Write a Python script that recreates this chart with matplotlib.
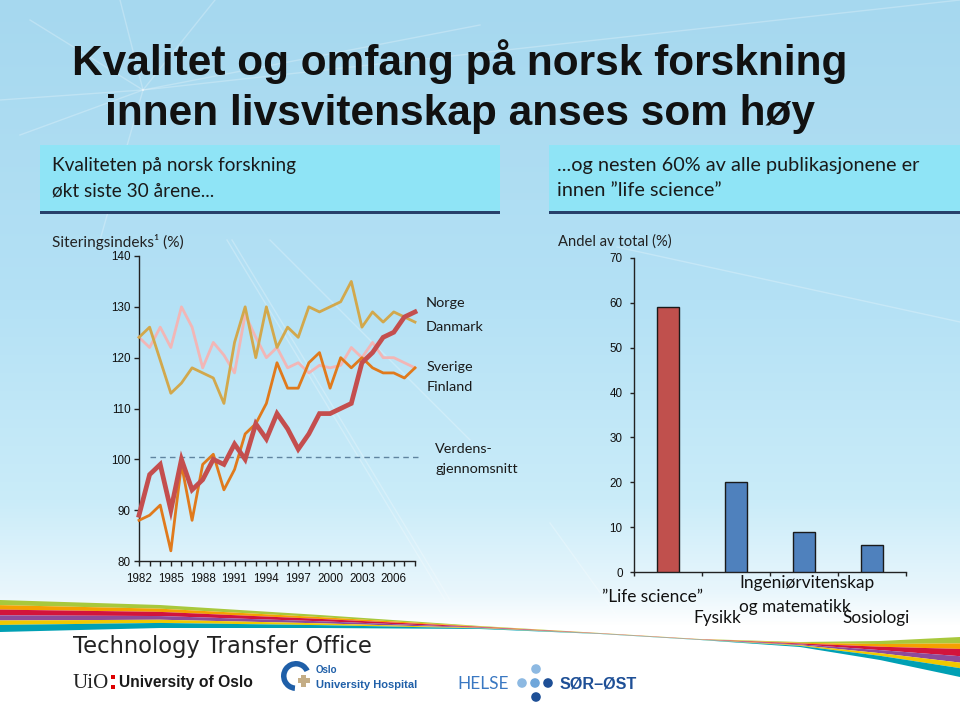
import numpy as np
import matplotlib
matplotlib.use("Agg")
import matplotlib.pyplot as plt
from matplotlib.patches import Rectangle, Wedge, Circle

# ---------------- data ----------------
years = list(range(1982, 2009))
norge = [89, 97, 99, 90, 100, 94, 96, 100, 99, 103, 100, 107, 104, 109, 106, 102, 105,
         109, 109, 110, 111, 119, 121, 124, 125, 128, 129]
danmark = [124, 126, 119.5, 113, 115, 118, 117, 116, 111, 123, 130, 120, 130, 122, 126,
           124, 130, 129, 130, 131, 135, 126, 129, 127, 129, 128, 127]
sverige = [124, 122, 126, 122, 130, 126, 118, 123, 120.5, 117, 128.5, 124, 120, 122, 118,
           119, 117, 118.5, 118, 118.5, 122, 120, 123, 120, 120, 119, 118]
finland = [88, 89, 91, 82, 99, 88, 99, 101, 94, 98, 105, 107, 111, 119, 114, 114, 119,
           121, 114, 120, 118, 120, 118, 117, 117, 116, 118]
world_avg = 100.5
world_start, world_end = 1983, 2008.3
year_ticks = list(range(1982, 2007, 3))
left_yticks = [80, 90, 100, 110, 120, 130, 140]
series_names = ["Norge", "Danmark", "Sverige", "Finland"]
world_label = ["Verdens-", "gjennomsnitt"]

categories = ["\u201dLife science\u201d", "Fysikk", "Ingeni\u00f8rvitenskap\nog matematikk", "Sosiologi"]
shares = [59, 20, 9, 6]
right_yticks = [0, 10, 20, 30, 40, 50, 60, 70]

CAL = ["Lato", "DejaVu Sans"]
ARIAL = ["Liberation Sans", "DejaVu Sans"]

fig = plt.figure(figsize=(9.6, 7.07), dpi=100)
W, H = 960, 707

# ---------------- background ----------------
bg = fig.add_axes([0, 0, 1, 1], zorder=0)
bg.set_xlim(0, W)
bg.set_ylim(H, 0)
bg.axis("off")
rows = np.arange(H)
cy = [0, 300, 500, 590, 625, 707]
rr = np.interp(rows, cy, [166, 180, 202, 232, 255, 255])
gg = np.interp(rows, cy, [216, 225, 236, 246, 255, 255])
bb = np.interp(rows, cy, [239, 245, 249, 252, 255, 255])
img = np.stack([rr, gg, bb], axis=1)[:, None, :].repeat(4, axis=1) / 255.0
bg.imshow(img, extent=(0, W, H, 0), aspect="auto", zorder=0, interpolation="bilinear")

# faint decorative streaks
streaks = [((227, 240), (445, 600)), ((232, 240), (450, 600)), ((270, 240), (470, 440)),
           ((617, 247), (960, 322)), ((550, 523), (627, 630)), ((143, 90), (30, 20)),
           ((143, 90), (120, 0)), ((143, 90), (215, 0)), ((143, 90), (0, 100)),
           ((143, 90), (20, 135)), ((143, 90), (480, 25)), ((143, 90), (960, 0)),
           ((143, 90), (100, 240))]
for (x0, y0), (x1, y1) in streaks:
    bg.plot([x0, x1], [y0, y1], color="white", lw=1.0, alpha=0.25, zorder=1)

# rainbow swoosh
xs = np.linspace(0, W, 500)
cx = [0, 160, 320, 480, 600, 700, 800, 880, 960]
top = np.interp(xs, cx, [600, 605, 615, 626, 633, 639, 642, 641, 637])
bot = np.interp(xs, cx, [632, 628, 628, 629, 634, 640, 647, 660, 677])
fr = [0, 0.16, 0.30, 0.48, 0.64, 0.78, 1.0]
scol = ["#A8C83C", "#F5A000", "#D2143C", "#8C4B9B", "#F0C800", "#00A0B4"]
for i, c in enumerate(scol):
    y0 = top + (bot - top) * fr[i]
    y1 = top + (bot - top) * fr[i + 1]
    bg.fill_between(xs, y0, y1, color=c, lw=0, zorder=2)

# header boxes
for x0, wbox in [(40, 460), (549, 411)]:
    bg.add_patch(Rectangle((x0, 145), wbox, 66, facecolor="#8FE4F6", edgecolor="none", zorder=3))
    bg.add_patch(Rectangle((x0, 211), wbox, 3, facecolor="#27406A", edgecolor="none", zorder=3))

renderer = fig.canvas.get_renderer()


def fit(t, w):
    e = t.get_window_extent(renderer)
    t.set_fontsize(t.get_fontsize() * w / e.width)
    return t.get_fontsize()


# title
t1 = bg.text(460, 75, "Kvalitet og omfang p\u00e5 norsk forskning", ha="center", va="baseline",
             family=ARIAL, weight="bold", fontsize=30.5, color="#111111", zorder=5)
fs = fit(t1, 776)
bg.text(460, 125, "innen livsvitenskap anses som h\u00f8y", ha="center", va="baseline",
        family=ARIAL, weight="bold", fontsize=fs, color="#111111", zorder=5)

# box texts
b1 = bg.text(52, 166, "Kvaliteten p\u00e5 norsk forskning", ha="left", va="center",
             family=CAL, fontsize=14, color="#1a1a1a", zorder=5)
fs = fit(b1, 245)
bg.text(52, 191, "\u00f8kt siste 30 \u00e5rene...", ha="left", va="center",
        family=CAL, fontsize=fs, color="#1a1a1a", zorder=5)
b2 = bg.text(557, 166, "...og nesten 60% av alle publikasjonene er", ha="left", va="center",
             family=CAL, fontsize=14, color="#1a1a1a", zorder=5)
fit(b2, 363)
bg.text(557, 191, "innen \u201dlife science\u201d", ha="left", va="center",
        family=CAL, fontsize=b2.get_fontsize(), color="#1a1a1a", zorder=5)

# axis captions
a1 = bg.text(52, 242, "Siteringsindeks\u00b9 (%)", ha="left", va="center", family=CAL,
             fontsize=10, color="#222222", zorder=5)
fit(a1, 132)
a2 = bg.text(558, 242, "Andel av total (%)", ha="left", va="center", family=CAL,
             fontsize=10, color="#222222", zorder=5)
fit(a2, 114)

# ---------------- left line chart ----------------
axL = fig.add_axes([139 / W, (H - 561) / H, 276 / W, 305 / H], zorder=2)
axL.patch.set_alpha(0)
axL.plot(years, sverige, color="#F2B6B6", lw=2.0, zorder=2, clip_on=False)
axL.plot(years, danmark, color="#D2A84C", lw=2.0, zorder=3, clip_on=False)
axL.plot(years, finland, color="#E07A1C", lw=2.0, zorder=4, clip_on=False)
axL.plot(years, norge, color="#C44E4E", lw=3.4, zorder=5, clip_on=False, solid_joinstyle="miter")
axL.hlines(world_avg, world_start, world_end, colors="#5F84A0", linestyles=(0, (4, 3)),
           lw=1.0, clip_on=False, zorder=1)
axL.set_xlim(1982, 2008)
axL.set_ylim(80, 140)
axL.set_xticks(years, minor=False)
axL.set_xticklabels([str(y) if y in year_ticks else "" for y in years])
axL.set_yticks(left_yticks)
for s in ["top", "right"]:
    axL.spines[s].set_visible(False)
for s in ["left", "bottom"]:
    axL.spines[s].set_color("#222222")
    axL.spines[s].set_linewidth(1.0)
axL.tick_params(axis="both", direction="out", length=3.6, width=1.0, color="#222222",
                labelsize=8.4, labelcolor="#111111")
axL.tick_params(axis="y", pad=2.6)
axL.tick_params(axis="x", pad=5)
for lab in axL.get_xticklabels() + axL.get_yticklabels():
    lab.set_family(ARIAL)

# series labels (common size)
ref = bg.text(426, 327, series_names[1], ha="left", va="center", family=CAL, fontsize=11,
              color="#1a1a1a", zorder=5)
lfs = fit(ref, 58)
for txt, x, y in [(series_names[0], 426, 303), (series_names[2], 427, 367),
                  (series_names[3], 427, 387), (world_label[0], 435, 449),
                  (world_label[1], 435, 469)]:
    bg.text(x, y, txt, ha="left", va="center", family=CAL, fontsize=lfs,
            color="#1a1a1a", zorder=5)

# ---------------- right bar chart ----------------
axR = fig.add_axes([634 / W, (H - 572.3) / H, 272 / W, 314.6 / H], zorder=2)
axR.patch.set_alpha(0)
bar_cols = ["#C0504D", "#4F81BD", "#4F81BD", "#4F81BD"]
axR.bar(range(len(shares)), shares, width=0.335, color=bar_cols, edgecolor="#1a1a1a", lw=1.0,
        zorder=3)
axR.set_xlim(-0.5, len(shares) - 0.5)
axR.set_ylim(0, 70)
axR.set_yticks(right_yticks)
axR.set_xticks(np.arange(len(shares) + 1) - 0.5)
axR.set_xticklabels([])
for s in ["top", "right"]:
    axR.spines[s].set_visible(False)
for s in ["left", "bottom"]:
    axR.spines[s].set_color("#222222")
    axR.spines[s].set_linewidth(1.0)
axR.tick_params(axis="both", direction="out", length=3.2, width=1.0, color="#222222",
                labelsize=8.4, labelcolor="#111111")
axR.tick_params(axis="y", pad=5)
for lab in axR.get_yticklabels():
    lab.set_family(ARIAL)

# category labels (staggered as in the original)
ct = bg.text(739, 583, categories[2].split("\n")[0], ha="left", va="center", family=CAL,
             fontsize=13, color="#111111", zorder=6)
cat_fs = fit(ct, 134)
for txt, x, y in [(categories[0], 602, 597), (categories[1], 693, 618),
                  (categories[2].split("\n")[1], 739, 607), (categories[3], 842, 618)]:
    bg.text(x, y, txt, ha="left", va="center", family=CAL, fontsize=cat_fs,
            color="#111111", zorder=6)

# ---------------- footer ----------------
tt = bg.text(73, 646, "Technology Transfer Office", ha="left", va="center",
             family=["DejaVu Sans"], fontsize=12, color="#222222", zorder=6)
fit(tt, 297)
u1 = bg.text(73, 683, "UiO", ha="left", va="center", family=["Liberation Serif", "DejaVu Serif"],
             fontsize=13, color="#222222", zorder=6)
fit(u1, 36)
bg.add_patch(Rectangle((111, 675), 4, 4, facecolor="#DD0000", edgecolor="none", zorder=6))
bg.add_patch(Rectangle((111, 685), 4, 4, facecolor="#DD0000", edgecolor="none", zorder=6))
u2 = bg.text(119, 683, "University of Oslo", ha="left", va="center", family=ARIAL,
             weight="bold", fontsize=12, color="#1a1a1a", zorder=6)
fit(u2, 133)

# Oslo University Hospital logo
bg.add_patch(Wedge((296, 676), 15, 95, 335, width=5.5, facecolor="#1F5FA8",
                   edgecolor="none", zorder=6))
bg.add_patch(Rectangle((297.5, 678), 12, 5, facecolor="#C4AD86", edgecolor="none", zorder=7))
bg.add_patch(Rectangle((301, 674.5), 5, 12, facecolor="#C4AD86", edgecolor="none", zorder=7))
o1 = bg.text(316, 670, "Oslo", ha="left", va="center", family=ARIAL, weight="bold",
             fontsize=8, color="#1F5FA8", zorder=6)
fit(o1, 22)
o2 = bg.text(316, 685, "University Hospital", ha="left", va="center", family=ARIAL,
             weight="bold", fontsize=8, color="#1F5FA8", zorder=6)
fit(o2, 102)

# Helse Sør-Øst
h1 = bg.text(457, 684, "HELSE", ha="left", va="center", family=CAL, fontsize=13,
             color="#3A78C2", zorder=6)
fit(h1, 51)
for (x, y, c) in [(536, 669, "#8DB9E2"), (522, 683, "#8DB9E2"), (535, 683, "#6FA6DA"),
                  (548, 683, "#1E4F96"), (536, 697, "#1E4F96")]:
    bg.add_patch(Circle((x, y), 4.8, facecolor=c, edgecolor="none", zorder=6))
h2 = bg.text(560, 684, "S\u00d8R\u2013\u00d8ST", ha="left", va="center", family=ARIAL,
             weight="bold", fontsize=13, color="#1E4F96", zorder=6)
fit(h2, 77)

fig.savefig("out.png", dpi=100)
